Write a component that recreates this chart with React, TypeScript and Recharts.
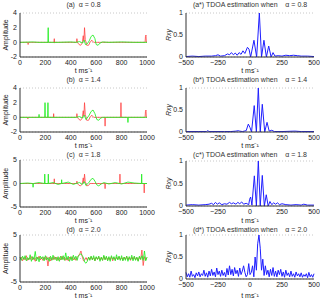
import React from "react";
import { LineChart, Line, XAxis, YAxis, CartesianGrid } from "recharts";

type Pt = [number, number];

// ---- left column: time signals (t in ms) ----
const aGreen: Pt[] = [[0,0],[100,0.05],[150,0],[220,0],[222,2],[224,0],[300,0],[400,0.05],[440,0],[470,0.1],[490,-0.1],[505,0.3],[515,-0.3],[530,-0.2],[545,0.2],[560,0.8],[575,1.0],[590,0.5],[600,-0.3],[615,-0.4],[630,-0.1],[650,0.05],[700,0],[800,0.05],[900,0],[1000,0]];
const aRed: Pt[] = [[0,0],[62,0],[64,-0.3],[66,0],[268,0],[270,0.5],[272,-0.1],[274,0],[445,0],[448,0.5],[452,0],[465,-0.3],[478,-0.4],[490,-0.1],[498,0.9],[503,0.2],[508,2.0],[514,0.4],[525,-0.4],[540,-0.4],[552,0],[565,0.3],[580,0],[985,0],[988,0.8],[992,1.0],[995,0],[1000,0]];

const bGreen: Pt[] = [[0,0],[148,0],[150,0.4],[152,0],[195,0],[197,2],[199,0],[218,0],[220,2],[222,0],[300,0],[440,0],[470,0.1],[490,-0.1],[505,0.3],[520,-0.3],[545,0.3],[560,0.8],[575,1.0],[590,0.5],[605,-0.3],[620,-0.4],[635,-0.1],[650,0],[848,0],[850,-0.7],[852,0],[1000,0]];
const bRed: Pt[] = [[0,0],[60,0],[62,-0.2],[64,0],[263,0],[265,0.5],[267,0],[445,0],[448,0.5],[452,0],[465,-0.3],[478,-0.4],[490,-0.1],[498,0.9],[503,0.2],[508,2.0],[514,0.4],[525,-0.4],[540,-0.4],[552,0],[565,0.3],[580,0],[668,0],[670,-1.2],[672,0],[793,0],[795,2],[797,0],[985,0],[988,0.8],[992,1.0],[995,0],[1000,0]];

const cGreen: Pt[] = [[0,0],[60,0.1],[100,0],[103,-0.8],[106,0],[150,0.2],[193,0],[195,2],[197,0],[221,0],[223,2],[225,0],[260,0.2],[300,-0.2],[326,0],[328,0.8],[330,0],[380,0.3],[420,-0.2],[440,0],[470,0.2],[490,-0.2],[505,0.4],[520,-0.4],[545,0.3],[560,0.9],[575,1.1],[590,0.5],[605,-0.3],[620,-0.5],[640,-0.1],[660,0.2],[700,-0.1],[750,0.2],[800,-0.1],[850,0.3],[900,0.1],[956,0],[958,2],[960,0],[1000,0]];
const cRed: Pt[] = [[0,0],[268,0],[270,1],[272,0],[445,0],[448,0.5],[452,0],[465,-0.4],[478,-0.5],[490,-0.1],[498,1.2],[503,0.2],[508,2.0],[514,0.4],[525,-0.5],[540,-0.4],[552,0],[668,0],[670,-1.1],[672,0],[785,0],[787,2],[789,0],[976,0],[978,-2],[980,0],[1000,0]];

// (d) sampled every 10 ms from 0 to 1000
const dGreen = [
  0.3,-0.4,0.5,-0.2,0.6,-0.5,0.2,-0.3,0.8,-0.6,
  0.4,-0.2,1.5,-0.5,0.3,-0.7,0.5,-0.1,0.4,-0.5,
  0.6,-0.3,0.2,-0.6,0.5,-0.4,0.7,-0.2,0.3,-0.5,
  0.4,-0.6,0.5,-0.3,0.6,-0.4,1.2,-0.3,0.5,-0.6,
  0.4,-0.5,0.7,-0.2,0.5,-0.4,0.6,0.8,1.0,0.6,
  0.2,-0.8,-1.0,-0.6,0.3,-0.4,0.5,-0.3,0.6,-0.5,
  0.4,-0.2,0.5,-0.6,0.3,-0.4,0.7,-0.3,0.5,-0.5,
  0.4,-0.6,0.6,-0.2,0.4,-0.5,0.8,-0.3,0.5,-0.4,
  0.6,-0.5,0.3,-0.4,0.5,-0.6,0.4,-0.3,0.7,-0.5,
  0.5,-0.4,0.3,-0.6,0.5,-0.2,0.6,-0.4,1.6,-0.5,0.3,
];
const dRed = [
  -0.2,0.3,-0.5,0.2,-0.3,0.6,-0.4,0.1,-0.2,0.4,
  -0.3,0.2,-0.6,0.3,-0.1,0.5,-0.3,0.2,-0.4,0.3,
  -0.2,0.4,-1.6,0.3,-0.5,0.2,-0.3,0.4,-0.2,0.3,
  -0.4,0.2,-0.3,0.5,-0.2,0.3,-0.4,0.2,-0.5,0.3,
  -0.2,0.4,-0.3,0.2,-0.4,0.3,0.5,1.0,1.6,0.4,
  -0.5,-0.3,0.2,-0.4,0.3,-0.2,0.4,-0.3,0.2,-0.5,
  0.3,-0.2,0.4,-0.3,0.2,-0.4,0.5,-0.2,0.3,-0.4,
  0.2,-0.3,0.4,-0.5,0.2,-0.3,0.3,-0.2,0.4,-0.3,
  0.2,-0.4,0.3,-0.2,0.5,-0.3,0.2,-0.4,0.3,-0.2,
  0.4,-0.3,0.2,-0.5,0.3,-0.2,1.8,-1.5,0.4,-0.3,0.2,
];

// ---- right column: TDOA cross-correlation (lag in ms) ----
const aRxy: Pt[] = [[-500,0.01],[-450,0.02],[-400,0.01],[-350,0.02],[-300,0.02],[-270,0.03],[-250,0.05],[-230,0.02],[-200,0.03],[-175,0.07],[-160,0.05],[-145,0.1],[-130,0.05],[-115,0.09],[-100,0.04],[-85,0.1],[-70,0.06],[-55,0.14],[-40,0.08],[-20,0.22],[-8,0.18],[5,0],[31,0.38],[52,0],[73,1],[90,0],[109,0.38],[128,0],[146,0.25],[165,0],[180,0.1],[195,0.02],[220,0.03],[250,0.02],[280,0.04],[310,0.03],[340,0.04],[370,0.03],[400,0.02],[450,0.02],[500,0.01]];
const bRxy: Pt[] = [[-500,0.01],[-400,0.01],[-340,0.01],[-330,0.03],[-320,0.01],[-250,0.01],[-200,0.01],[-150,0.01],[-110,0.02],[-90,0.03],[-80,0.02],[-60,0.01],[-30,0.03],[-13,0.18],[0,0.1],[12,0],[33,0.6],[50,0],[65,1],[80,0],[96,0.63],[115,0],[133,0.22],[150,0.02],[170,0.04],[190,0.01],[250,0.01],[350,0.02],[400,0.01],[500,0.01]];
const cRxy: Pt[] = [[-500,0.02],[-450,0.03],[-400,0.02],[-350,0.03],[-320,0.04],[-300,0.06],[-285,0.03],[-270,0.08],[-255,0.04],[-240,0.07],[-220,0.03],[-200,0.05],[-180,0.04],[-160,0.08],[-145,0.05],[-130,0.07],[-110,0.04],[-95,0.08],[-80,0.05],[-65,0.09],[-50,0.04],[-30,0.06],[-10,0.03],[-3,0.15],[5,0.2],[15,0.02],[34,0.67],[50,0],[65,1],[80,0],[96,0.68],[112,0],[127,0.25],[142,0],[156,0.1],[170,0.03],[185,0.07],[200,0.04],[215,0.07],[230,0.03],[250,0.05],[280,0.03],[320,0.02],[360,0.03],[400,0.02],[420,0.04],[450,0.02],[500,0.02]];
// (d*) sampled every 10 ms from -500 to 500
const dRxy = [
  0.15,0.05,0.12,0.04,0.18,0.06,0.1,0.03,0.14,0.07,
  0.16,0.05,0.12,0.08,0.2,0.06,0.14,0.04,0.18,0.07,
  0.22,0.08,0.16,0.05,0.25,0.1,0.18,0.06,0.2,0.08,
  0.15,0.05,0.24,0.09,0.3,0.1,0.22,0.07,0.26,0.12,
  0.2,0.06,0.25,0.1,0.18,0.3,0.15,0.05,0.1,0.35,
  0.1,0.15,0.3,0.05,0.5,0.2,0.8,1.0,0.7,0.2,
  0.45,0.08,0.3,0.1,0.2,0.05,0.22,0.08,0.26,0.06,
  0.18,0.05,0.2,0.1,0.22,0.06,0.16,0.04,0.2,0.08,
  0.14,0.05,0.18,0.06,0.12,0.04,0.16,0.07,0.12,0.05,
  0.14,0.04,0.1,0.06,0.12,0.03,0.15,0.05,0.1,0.04,0.12,
];

const leftTicks = [0, 200, 400, 600, 800, 1000];
const rightTicks = [-500, -250, 0, 250, 500];

const FONT = "'Liberation Sans', Arial, sans-serif";
const tickStyle = { fontSize: 7, fill: "#222", fontFamily: FONT };

const toRows = (pts: Pt[]) => pts.map(([t, v]) => ({ t, v }));
const sampled = (vals: number[], start: number) =>
  vals.map((v, i) => ({ t: start + i * 10, v }));

const Title = ({ x, y, w, text }: { x: number; y: number; w: number; text: string }) => (
  <div
    style={{
      position: "absolute",
      left: x,
      top: y - 5,
      width: w,
      textAlign: "center",
      fontSize: 7,
      lineHeight: "10px",
      fontFamily: FONT,
      color: "#333",
      whiteSpace: "pre",
    }}
  >
    {text}
  </div>
);

interface LeftProps {
  top: number;
  mTop: number;
  title: string;
  green: { t: number; v: number }[];
  red: { t: number; v: number }[];
  domain: [number, number];
  ticks: number[];
}

const SignalPanel = ({ top, mTop, title, green, red, domain, ticks }: LeftProps) => (
  <>
    <Title x={20} y={top + 5} w={127} text={title} />
    <div style={{ position: "absolute", left: 0, top }}>
      <LineChart width={160} height={75} margin={{ top: mTop, right: 13, bottom: 0, left: 0 }}>
        <CartesianGrid vertical={false} stroke="#c8c8c8" strokeDasharray="1 2" />
        <XAxis
          dataKey="t"
          type="number"
          domain={[0, 1000]}
          ticks={leftTicks}
          height={18}
          tick={tickStyle}
          tickLine={false}
          tickSize={2}
          tickMargin={1}
          stroke="#333"
          allowDuplicatedCategory={false}
          label={{ value: "t  ms⁻¹", position: "insideBottom", offset: 2, style: { ...tickStyle, fontSize: 7 } }}
        />
        <YAxis
          type="number"
          domain={domain}
          ticks={ticks}
          width={20}
          tick={tickStyle}
          tickLine={false}
          tickSize={2}
          tickMargin={1}
          stroke="#333"
          allowDataOverflow
          label={{ value: "Amplitude", angle: -90, position: "insideLeft", offset: 6, style: { ...tickStyle, textAnchor: "middle" } }}
        />
        <Line data={red} dataKey="v" stroke="#ff3b3b" strokeOpacity={0.75} strokeWidth={1} dot={false} isAnimationActive={false} />
        <Line data={green} dataKey="v" stroke="#22ee22" strokeOpacity={0.85} strokeWidth={1} dot={false} isAnimationActive={false} />
      </LineChart>
    </div>
  </>
);

interface RightProps {
  top: number;
  mTop: number;
  xH: number;
  title: string;
  rxy: { t: number; v: number }[];
}

const TdoaPanel = ({ top, mTop, xH, title, rxy }: RightProps) => (
  <>
    <Title x={186} y={top + 5} w={128} text={title} />
    <div style={{ position: "absolute", left: 160, top }}>
      <LineChart width={160} height={75} margin={{ top: mTop, right: 6, bottom: 0, left: 0 }}>
        <CartesianGrid vertical={false} stroke="#c8c8c8" strokeDasharray="1 2" />
        <XAxis
          dataKey="t"
          type="number"
          domain={[-500, 500]}
          ticks={rightTicks}
          height={xH}
          tick={tickStyle}
          tickLine={false}
          tickSize={2}
          tickMargin={1}
          stroke="#333"
          tickFormatter={(v: number) => (v < 0 ? `\u2212${-v}` : `${v}`)}
          label={{ value: "t  ms⁻¹", position: "insideBottom", offset: 2, style: { ...tickStyle } }}
        />
        <YAxis
          type="number"
          domain={[0, 1]}
          ticks={[0, 0.5, 1]}
          width={26}
          tick={tickStyle}
          tickLine={false}
          tickSize={2}
          tickMargin={1}
          stroke="#333"
          label={{ value: "Rxy", angle: -90, position: "insideLeft", offset: 9, style: { ...tickStyle, textAnchor: "middle", fontStyle: "italic" } }}
        />
        <Line data={rxy} dataKey="v" stroke="#1f1fff" strokeWidth={1} dot={false} isAnimationActive={false} />
      </LineChart>
    </div>
  </>
);

export default function App() {
  return (
    <div style={{ position: "absolute", left: 0, top: 0, width: 320, height: 299, background: "#fff", overflow: "hidden" }}>
      <SignalPanel top={0} mTop={13} title="(a)  α = 0.8" green={toRows(aGreen)} red={toRows(aRed)} domain={[-2, 4]} ticks={[-2, 0, 2, 4]} />
      <SignalPanel top={75} mTop={13} title="(b)  α = 1.4" green={toRows(bGreen)} red={toRows(bRed)} domain={[-2, 4]} ticks={[-2, 0, 2, 4]} />
      <SignalPanel top={150} mTop={10} title="(c)  α = 1.8" green={toRows(cGreen)} red={toRows(cRed)} domain={[-5, 5]} ticks={[-5, 0, 5]} />
      <SignalPanel top={225} mTop={10} title="(d)  α = 2.0" green={sampled(dGreen, 0)} red={sampled(dRed, 0)} domain={[-5, 5]} ticks={[-5, 0, 5]} />

      <TdoaPanel top={0} mTop={13} xH={18} title="(a*) TDOA estimation when    α = 0.8" rxy={toRows(aRxy)} />
      <TdoaPanel top={75} mTop={13} xH={18} title="(b*) TDOA estimation when    α = 1.4" rxy={toRows(bRxy)} />
      <TdoaPanel top={150} mTop={11} xH={19} title="(c*) TDOA estimation when    α = 1.8" rxy={toRows(cRxy)} />
      <TdoaPanel top={225} mTop={10} xH={21} title="(d*) TDOA estimation when    α = 2.0" rxy={sampled(dRxy, -500)} />
    </div>
  );
}
